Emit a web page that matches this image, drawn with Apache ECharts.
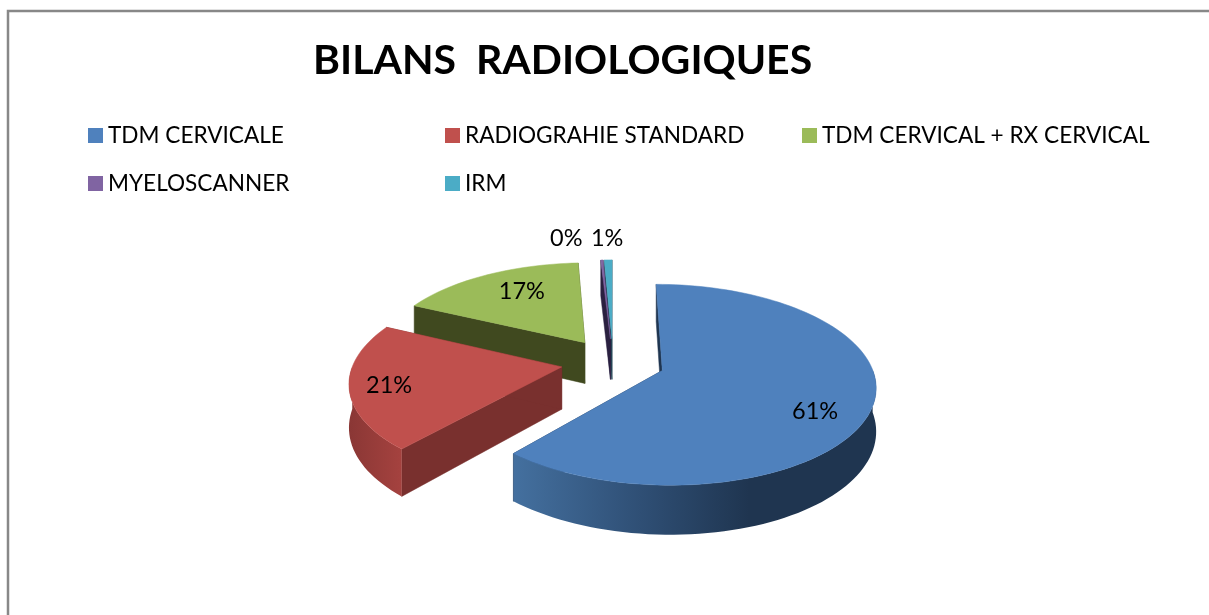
<!DOCTYPE html>
<html><head><meta charset="utf-8">
<style>html,body{margin:0;padding:0;background:#fff}#c{width:1209px;height:615px}</style>
<script src="https://cdn.jsdelivr.net/npm/echarts@6/dist/echarts.min.js"></script>
</head><body><div id="c"></div>
<script>
const categories = ['TDM CERVICALE','RADIOGRAHIE STANDARD','TDM CERVICAL + RX CERVICAL','MYELOSCANNER','IRM'];
const values = [61.4, 20.7, 17.0, 0.2, 0.7];
const titleText = 'BILANS  RADIOLOGIQUES';

const topColors = ['#4f81bd','#c0504d','#9bbb59','#8064a2','#4bacc6'];
const edgeColors = ['#1f3550','#79302e','#40491f','#2b2140','#1f3f50'];
const wallStops = [
  [[0,'#44709f'],[0.35,'#2f4f75'],[0.65,'#1f3550'],[1,'#1f3550']],
  [[0,'#a5423f'],[1,'#8a3735']],
  [[0,'#6f8a40'],[1,'#5d7335']],
  [[0,'#4c3a66'],[1,'#3c2e52']],
  [[0,'#2f6f82'],[1,'#285e6e']]
];
const labelShift = [[8,16],[-25,4],[8,-2],[-38,-43],[-2,-43]];
const legendPos = [[83,119],[440,119],[797,119],[83,167],[440,167]];
const drawOrder = [4,3,2,1,0];

const cx=613, cy=362, RX=208, RY=96, K=0.14, DEPTH=42, EXPLODE=0.25, START=0;
const total = values.reduce((a,b)=>a+b,0);
const rad = d => d*Math.PI/180;
let acc = START;
const slices = values.map(v=>{const a0=acc; acc+=v/total*360; return {a0,a1:acc,mid:(a0+acc)/2};});

function proj(u,t,z){const d=1-K*t; return [cx+RX*u/d, cy+(RY*t+z*DEPTH)/d];}

function renderSlice(i){
  return function(){
    const s=slices[i], m=rad(s.mid);
    const ou=EXPLODE*Math.sin(m), ot=-EXPLODE*Math.cos(m);
    const pt=(deg,r,z)=>{const a=rad(deg);return proj(ou+r*Math.sin(a),ot-r*Math.cos(a),z);};
    const apex0=pt(0,0,0), apex1=pt(0,0,1);
    const steps=Math.max(2,Math.ceil((s.a1-s.a0)/2));
    const arc=[];
    for(let k=0;k<=steps;k++){arc.push(s.a0+(s.a1-s.a0)*k/steps);}
    const children=[];
    const edgeStyle={fill:edgeColors[i],stroke:edgeColors[i],lineWidth:0.5};
    [s.a0,s.a1].forEach(a=>{
      children.push({type:'polygon',silent:true,shape:{points:[apex0,pt(a,1,0),pt(a,1,1),apex1]},style:edgeStyle});
    });
    // outer wall: the part of the rim that faces the viewer
    const front=arc.filter(a=>Math.cos(rad(a))<0.02);
    if(front.length>1){
      const up=front.map(a=>pt(a,1,0)), lo=front.map(a=>pt(a,1,1)).reverse();
      const dir=i===0?{x:0,x2:1}:{x:1,x2:0};
      children.push({type:'polygon',silent:true,shape:{points:up.concat(lo)},
        style:{fill:{type:'linear',x:dir.x,y:0,x2:dir.x2,y2:0,colorStops:wallStops[i].map(c=>({offset:c[0],color:c[1]}))},stroke:null}});
    }
    children.push({type:'polygon',silent:true,shape:{points:[apex0].concat(arc.map(a=>pt(a,1,0)))},
      style:{fill:topColors[i],stroke:topColors[i],lineWidth:0.5}});
    const lp=pt(s.mid,0.7,0);
    children.push({type:'text',silent:true,z2:50,style:{
      x:lp[0]+labelShift[i][0],y:lp[1]+labelShift[i][1],
      text:Math.round(values[i]/total*100)+'%',
      font:'23.5px Lato',fill:'#000',align:'center',verticalAlign:'middle'}});
    return {type:'group',children};
  };
}

const chart=echarts.init(document.getElementById('c'),null,{renderer:'canvas'});
chart.setOption({
  animation:false,
  backgroundColor:'#fff',
  title:{text:titleText,left:308,top:35,textStyle:{fontFamily:'Lato',fontWeight:'bold',fontSize:41,color:'#000'}},
  legend:categories.map((n,i)=>({
    data:[{name:n,icon:'rect'}],left:legendPos[i][0],top:legendPos[i][1],
    itemWidth:15,itemHeight:15,itemGap:6,selectedMode:false,
    textStyle:{fontFamily:'Lato',fontSize:22.6,color:'#000'}
  })),
  graphic:[{type:'rect',silent:true,z:-1,shape:{x:8,y:11,width:1400,height:800},style:{fill:'none',stroke:'#888',lineWidth:2.5}}],
  series:drawOrder.map((i,o)=>({
    type:'custom',name:categories[i],coordinateSystem:'none',
    itemStyle:{color:topColors[i]},
    z:2+o,
    data:[[values[i]]],
    renderItem:renderSlice(i)
  }))
});
</script></body></html>
